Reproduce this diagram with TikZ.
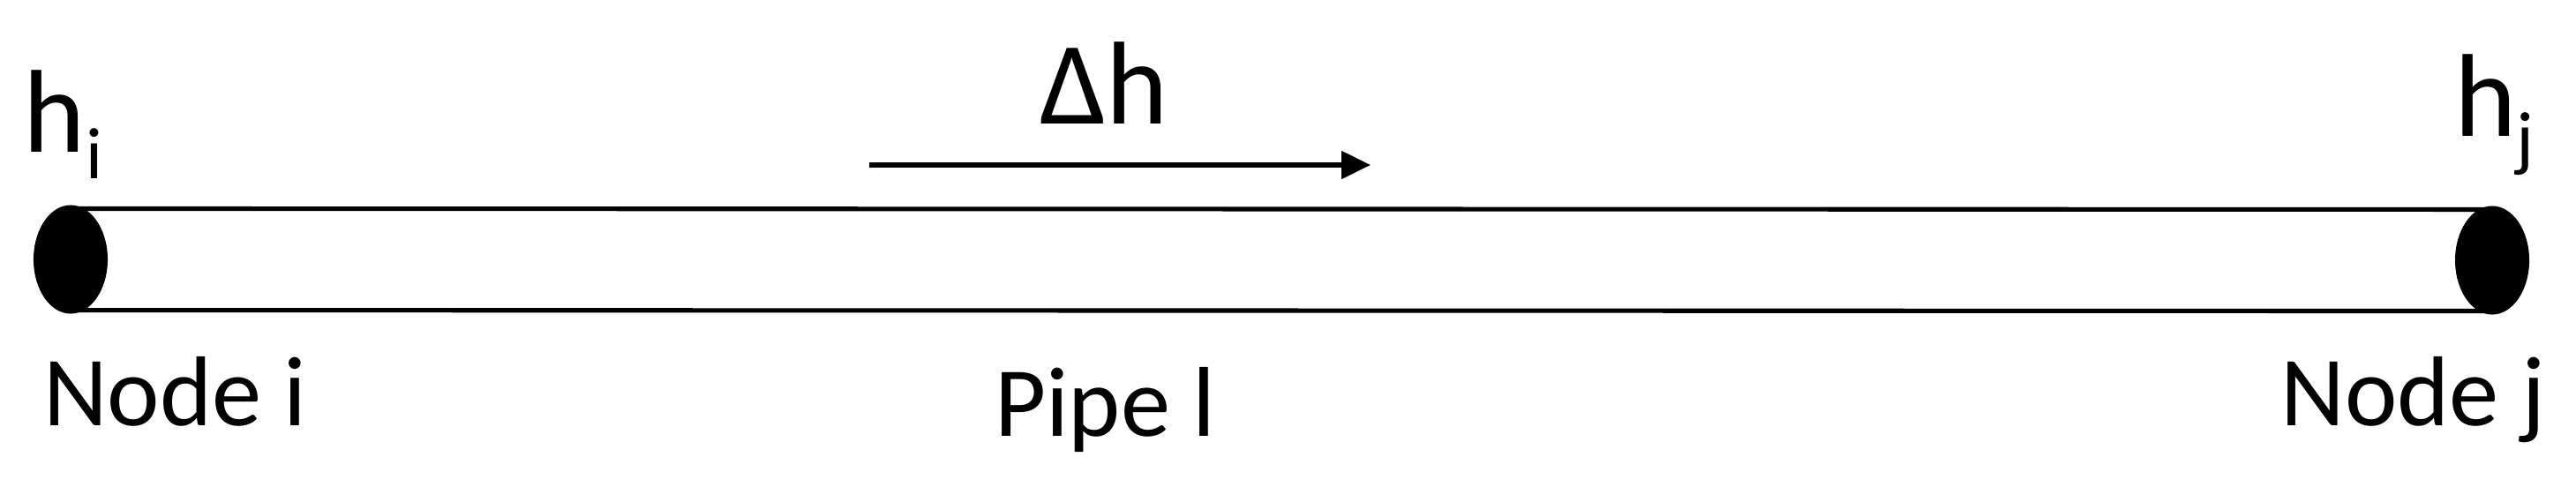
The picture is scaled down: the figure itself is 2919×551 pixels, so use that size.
\documentclass[tikz,border=0pt]{standalone}
\usepackage{fontspec}
\setmainfont{Carlito}
\usetikzlibrary{shapes.geometric,arrows.meta}
\newcommand{\mysub}[1]{\raisebox{-8.8pt}{\fontsize{23.5pt}{26pt}\selectfont #1}}
\begin{document}
\begin{tikzpicture}[x=0.01cm,y=-0.01cm,
  endpt/.style={ellipse,fill=black,draw=none,minimum width=0.84cm,minimum height=1.23cm,inner sep=0pt,outer sep=0pt},
  pipeline/.style={line width=1.45pt},
  lbl/.style={inner sep=0pt,outer sep=0pt,font=\fontsize{32pt}{36pt}\selectfont},
  head/.style={inner sep=0pt,outer sep=0pt,font=\fontsize{38pt}{42pt}\selectfont}]
\useasboundingbox (0,0) rectangle (2919,551);
\node[endpt] (ni) at (80,294) {};
\node[endpt] (nj) at (2824,295) {};
\draw[pipeline] ([yshift=0.575cm]ni.center) -- ([yshift=0.575cm]nj.center);
\draw[pipeline] ([yshift=-0.575cm]ni.center) -- ([yshift=-0.575cm]nj.center);
\coordinate (a0) at (985,187);
\coordinate (a1) at (1553,187);
\draw[pipeline,-{Triangle[length=0.33cm,width=0.31cm]}] (a0) -- (a1);
\node[head,anchor=base west] (hi) at (27,172) {h\mysub{i}};
\node[head,anchor=base west] (hj) at (2781,154) {h\mysub{j}};
\node[head,anchor=base west] (dh) at (1178,140) {Δh};
\node[lbl,anchor=base west] (li) at (49,482) {Node i};
\node[lbl,anchor=base west] (lp) at (1127,494) {Pipe l};
\node[lbl,anchor=base east] (lj) at (2884,482) {Node j};
\end{tikzpicture}
\end{document}
